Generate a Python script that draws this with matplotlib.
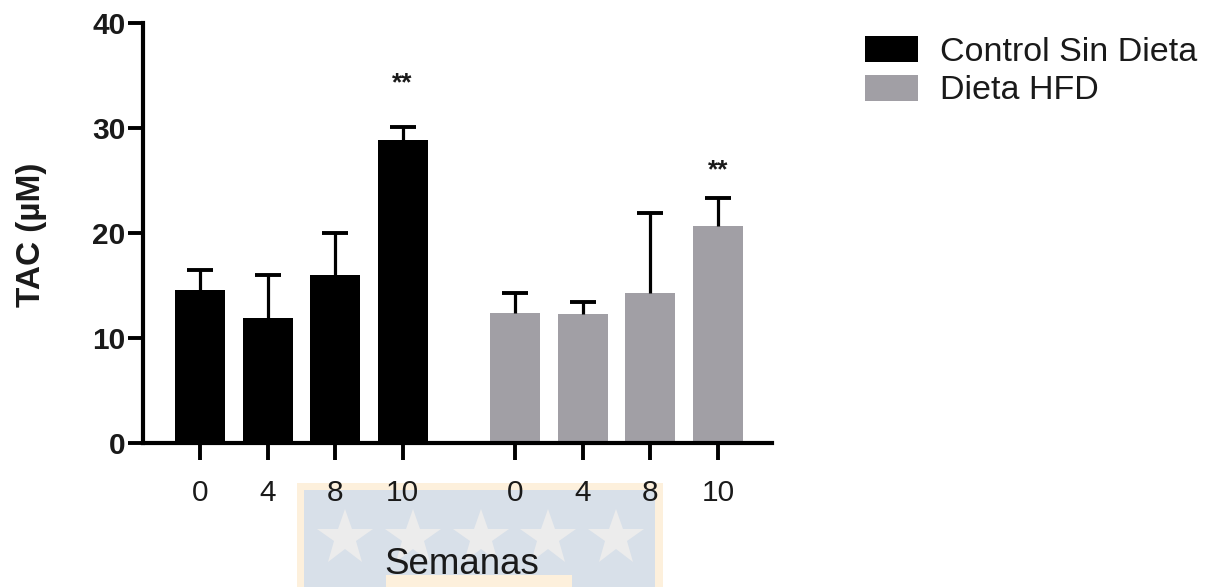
import numpy as np
import matplotlib
matplotlib.use("Agg")
import matplotlib.pyplot as plt
from matplotlib.patches import Rectangle

plt.rcParams['font.family'] = ['Liberation Sans', 'DejaVu Sans']

# Data
weeks = ["0", "4", "8", "10"]
series_names = ["Control Sin Dieta", "Dieta HFD"]
control_mean = [14.6, 11.9, 16.0, 28.9]
control_err = [1.9, 4.1, 4.0, 1.2]
hfd_mean = [12.4, 12.3, 14.3, 20.7]
hfd_err = [1.9, 1.1, 7.6, 2.6]
stars_control = ["", "", "", "**"]
stars_hfd = ["", "", "", "**"]
ylabel = "TAC (µM)"
xlabel = "Semanas"
yticks = [0, 10, 20, 30, 40]

W, H = 1218, 587
fig = plt.figure(figsize=(W / 100, H / 100), dpi=100)

# Background emblem behind the axis title
bg = fig.add_axes([0, 0, 1, 1], zorder=0)
bg.set_xlim(0, W)
bg.set_ylim(H, 0)
bg.axis("off")
bg.add_patch(Rectangle((297, 483), 366, 110, color="#fdf0dc", lw=0))
bg.add_patch(Rectangle((304, 490), 351, 110, color="#d8e0e9", lw=0))
bg.add_patch(Rectangle((386, 575), 186, 20, color="#fdf0dc", lw=0))
for sx in [345, 413, 481, 548, 616]:
    bg.plot(sx, 538, marker="*", markersize=42, color="#ececec",
            markeredgewidth=0, linestyle="none")

ax = fig.add_axes([143 / W, (H - 443) / H, (772 - 143) / W, 420 / H], zorder=1)
ax.patch.set_alpha(0)

step = 1.0
gap = 4.67
pos_c = np.arange(len(weeks)) * step
pos_h = pos_c + gap
width = 0.74

c_black = "#000000"
c_gray = "#a19fa5"

ax.bar(pos_c, control_mean, width=width, color=c_black, label=series_names[0], zorder=2)
ax.bar(pos_h, hfd_mean, width=width, color=c_gray, label=series_names[1], zorder=2)

# Upper-only error bars
for p, m, e in [(pos_c, control_mean, control_err), (pos_h, hfd_mean, hfd_err)]:
    _, caps, _ = ax.errorbar(p, m, yerr=[np.zeros(len(e)), e], fmt="none", ecolor="black",
                             elinewidth=2.3, capsize=9.5, capthick=2.8, zorder=3)
    caps[0].set_visible(False)

# Significance markers
star_y = {0: 33.6, 1: 25.3}
for gi, (p, labels) in enumerate([(pos_c, stars_control), (pos_h, stars_hfd)]):
    for x, s in zip(p, labels):
        if s:
            ax.text(x, star_y[gi], s, ha="center", va="baseline",
                    fontsize=19, fontweight="bold", color="#1a1a1a")

ax.set_ylim(0, 40)
ax.set_xlim(-0.844, 8.47)
ax.set_yticks(yticks)
ax.set_yticklabels([str(t) for t in yticks], fontweight="bold")
ax.set_xticks(np.concatenate([pos_c, pos_h]))
ax.set_xticklabels(weeks + weeks)

for side in ["top", "right"]:
    ax.spines[side].set_visible(False)
for side in ["left", "bottom"]:
    ax.spines[side].set_linewidth(3.0)
    ax.spines[side].set_color("black")

ax.tick_params(axis="y", length=11, width=2.8, pad=1.5, labelsize=21.5, colors="black",
               labelcolor="#1a1a1a")
ax.tick_params(axis="x", length=12, width=2.8, pad=14, labelsize=21.5, colors="black",
               labelcolor="#1a1a1a")

ax.set_ylabel(ylabel, fontsize=24, fontweight="bold", color="#1a1a1a", va="center")
ax.yaxis.set_label_coords((32 - 143) / 629, (443 - 235) / 420)
ax.set_xlabel(xlabel, fontsize=26.5, color="#1a1a1a", va="center")
ax.xaxis.set_label_coords((462 - 143) / 629, (443 - 565) / 420)

leg = ax.legend(loc="upper left", bbox_to_anchor=(865 / W, 1 - 36 / H),
                bbox_transform=fig.transFigure, frameon=False, fontsize=24.5,
                handlelength=1.56, handleheight=0.8, handletextpad=0.65,
                labelspacing=0.2, borderpad=0, borderaxespad=0)
for t in leg.get_texts():
    t.set_color("#1a1a1a")

fig.savefig("out.png", dpi=100)
